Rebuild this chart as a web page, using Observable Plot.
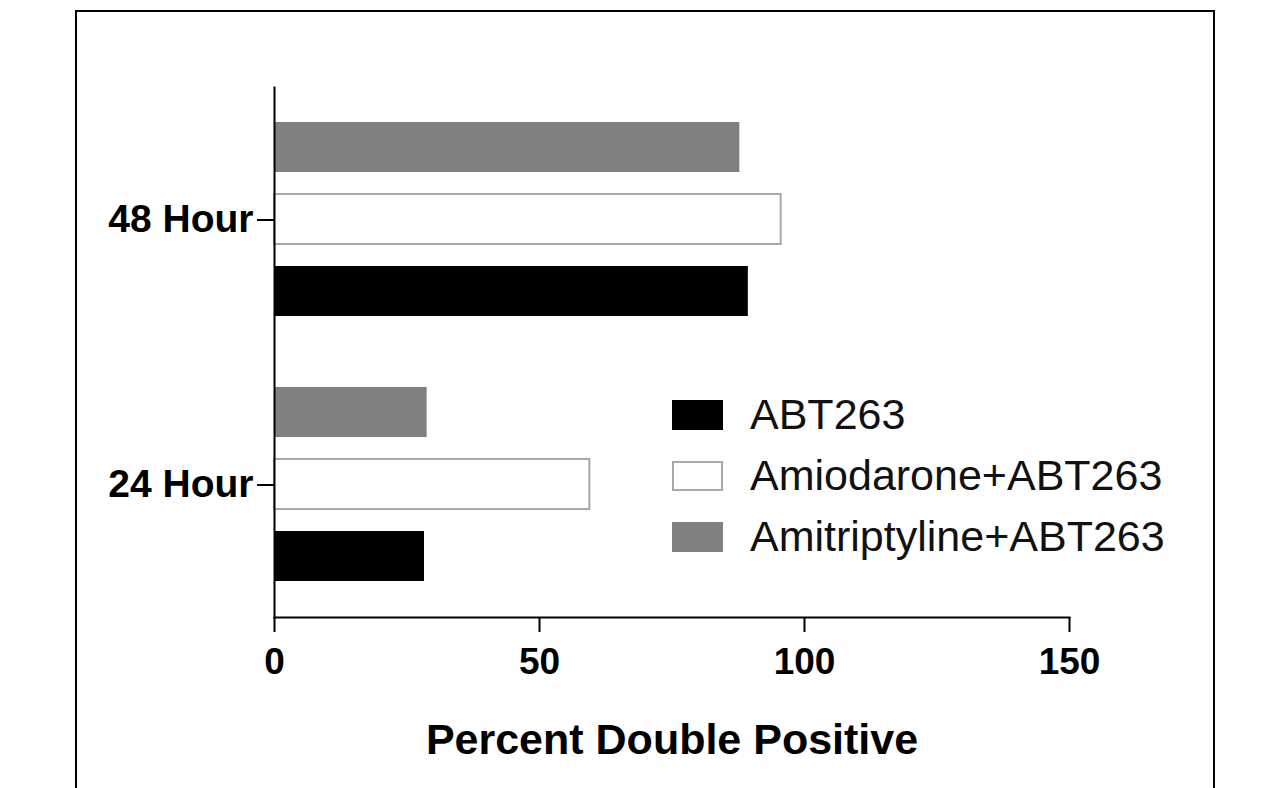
<!DOCTYPE html>
<html><head><meta charset="utf-8">
<script src="https://cdn.jsdelivr.net/npm/d3@7"></script>
<script src="https://cdn.jsdelivr.net/npm/@observablehq/plot@0.6"></script>
<style>
body{margin:0;background:#fff;}
#wrap{position:relative;width:1285px;height:788px;overflow:hidden;font-family:"Liberation Sans",Arial,sans-serif;background:#fff;}
#border{position:absolute;left:75px;top:10px;width:1136px;height:900px;border:2px solid #000;}
#chart{position:absolute;left:0;top:0;}
#legend{position:absolute;left:672px;top:384px;}
.row{display:flex;align-items:center;height:61px;}
.sw{width:51px;height:30px;box-sizing:border-box;margin-right:27px;}
.lab{font-size:43px;color:#111;white-space:nowrap;}
</style></head>
<body><div id="wrap"><div id="border"></div><div id="chart"></div><div id="legend"></div></div>
<script>
const groups = ["48 Hour", "24 Hour"];
const series = ["ABT263", "Amiodarone+ABT263", "Amitriptyline+ABT263"];
const abt263 = [89.4, 28.3];
const amiodarone = [95.6, 59.5];
const amitriptyline = [87.8, 28.8];
const xTicks = [0, 50, 100, 150];
const fills = ["#000000", "#ffffff", "#808080"];
const edges = ["#000000", "#a8a8a8", "#808080"];

const seriesValues = [abt263, amiodarone, amitriptyline];
const rows = groups.flatMap((g, i) => series.map((s, j) => ({group: g, series: s, value: seriesValues[j][i]})));

const chart = Plot.plot({
  width: 1285, height: 788,
  marginLeft: 274, marginRight: 216, marginTop: 86, marginBottom: 171,
  style: {fontFamily: "'Liberation Sans', Arial, sans-serif", background: "transparent", color: "#000", overflow: "visible"},
  x: {domain: [0, 150]},
  fy: {domain: groups, paddingInner: 0, paddingOuter: 0, label: null},
  y: {domain: [series[2], series[1], series[0]], paddingInner: 0.3, paddingOuter: 0.49, axis: null},
  color: {domain: series, range: fills},
  marks: [
    Plot.barX(rows, {fy: "group", y: "series", x: "value", fill: "series"}),
    Plot.barX(rows.filter(d => d.series === series[1]), {fy: "group", y: "series", x: "value", fill: "none", stroke: edges[1], strokeWidth: 2}),
    Plot.frame({anchor: "left", facet: "super", strokeWidth: 2}),
    Plot.frame({anchor: "bottom", facet: "super", strokeWidth: 2}),
    Plot.axisFy({anchor: "left", tickSize: 17, tickPadding: 4, fontSize: 39, fontWeight: "bold", strokeWidth: 2, label: null}),
    Plot.axisX({ticks: xTicks, tickSize: 15, tickPadding: 15, fontSize: 37, fontWeight: "bold", strokeWidth: 2, label: null}),
    Plot.axisX({ticks: [], label: "Percent Double Positive", labelAnchor: "center", labelOffset: 136, labelArrow: false, fontSize: 43, fontWeight: "bold"})
  ]
});
document.getElementById("chart").appendChild(chart);

const legend = document.getElementById("legend");
series.forEach((s, j) => {
  const row = document.createElement("div");
  row.className = "row";
  const sw = document.createElement("div");
  sw.className = "sw";
  sw.style.background = fills[j];
  sw.style.border = "2px solid " + edges[j];
  const lab = document.createElement("span");
  lab.className = "lab";
  lab.textContent = s;
  row.appendChild(sw); row.appendChild(lab);
  legend.appendChild(row);
});
</script>
</body></html>
